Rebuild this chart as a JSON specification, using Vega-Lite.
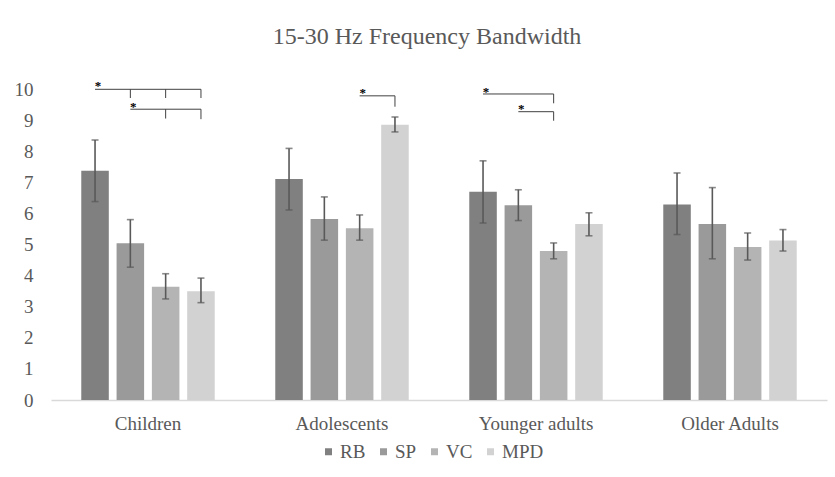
{
  "$schema": "https://vega.github.io/schema/vega-lite/v6.json",
  "autosize": "none",
  "width": 776,
  "height": 311,
  "padding": {"left": 51, "top": 89, "right": 8, "bottom": 77},
  "background": "white",
  "title": {
    "text": "15-30 Hz Frequency Bandwidth",
    "font": "Liberation Serif",
    "fontSize": 24,
    "fontWeight": "normal",
    "color": "#595959",
    "anchor": "middle",
    "dx": -12,
    "offset": 31
  },
  "datasets": {
    "bars": [
      {"group": "Children", "series": "RB", "value": 7.37, "lo": 6.38, "hi": 8.36},
      {"group": "Children", "series": "SP", "value": 5.04, "lo": 4.27, "hi": 5.80},
      {"group": "Children", "series": "VC", "value": 3.64, "lo": 3.25, "hi": 4.06},
      {"group": "Children", "series": "MPD", "value": 3.50, "lo": 3.13, "hi": 3.92},
      {"group": "Adolescents", "series": "RB", "value": 7.11, "lo": 6.11, "hi": 8.09},
      {"group": "Adolescents", "series": "SP", "value": 5.82, "lo": 5.14, "hi": 6.53},
      {"group": "Adolescents", "series": "VC", "value": 5.52, "lo": 5.14, "hi": 5.95},
      {"group": "Adolescents", "series": "MPD", "value": 8.85, "lo": 8.62, "hi": 9.10},
      {"group": "Younger adults", "series": "RB", "value": 6.70, "lo": 5.69, "hi": 7.69},
      {"group": "Younger adults", "series": "SP", "value": 6.26, "lo": 5.77, "hi": 6.76},
      {"group": "Younger adults", "series": "VC", "value": 4.79, "lo": 4.54, "hi": 5.05},
      {"group": "Younger adults", "series": "MPD", "value": 5.66, "lo": 5.28, "hi": 6.02},
      {"group": "Older Adults", "series": "RB", "value": 6.29, "lo": 5.32, "hi": 7.30},
      {"group": "Older Adults", "series": "SP", "value": 5.66, "lo": 4.54, "hi": 6.83},
      {"group": "Older Adults", "series": "VC", "value": 4.92, "lo": 4.50, "hi": 5.37},
      {"group": "Older Adults", "series": "MPD", "value": 5.13, "lo": 4.79, "hi": 5.48}
    ],
    "brackets": [
      {"seg": "c1", "group": "Children", "series": "RB", "y": 9.99},
      {"seg": "c1", "group": "Children", "series": "MPD", "y": 9.99},
      {"seg": "c1a", "group": "Children", "series": "SP", "y": 9.99},
      {"seg": "c1a", "group": "Children", "series": "SP", "y": 9.71},
      {"seg": "c1b", "group": "Children", "series": "VC", "y": 9.99},
      {"seg": "c1b", "group": "Children", "series": "VC", "y": 9.71},
      {"seg": "c1c", "group": "Children", "series": "MPD", "y": 9.99},
      {"seg": "c1c", "group": "Children", "series": "MPD", "y": 9.71},
      {"seg": "c2", "group": "Children", "series": "SP", "y": 9.35},
      {"seg": "c2", "group": "Children", "series": "MPD", "y": 9.35},
      {"seg": "c2a", "group": "Children", "series": "VC", "y": 9.35},
      {"seg": "c2a", "group": "Children", "series": "VC", "y": 9.05},
      {"seg": "c2b", "group": "Children", "series": "MPD", "y": 9.35},
      {"seg": "c2b", "group": "Children", "series": "MPD", "y": 9.03},
      {"seg": "a1", "group": "Adolescents", "series": "VC", "y": 9.78},
      {"seg": "a1", "group": "Adolescents", "series": "MPD", "y": 9.78},
      {"seg": "a1a", "group": "Adolescents", "series": "MPD", "y": 9.78},
      {"seg": "a1a", "group": "Adolescents", "series": "MPD", "y": 9.43},
      {"seg": "y1", "group": "Younger adults", "series": "RB", "y": 9.84},
      {"seg": "y1", "group": "Younger adults", "series": "VC", "y": 9.84},
      {"seg": "y1a", "group": "Younger adults", "series": "VC", "y": 9.84},
      {"seg": "y1a", "group": "Younger adults", "series": "VC", "y": 9.54},
      {"seg": "y2", "group": "Younger adults", "series": "SP", "y": 9.27},
      {"seg": "y2", "group": "Younger adults", "series": "VC", "y": 9.27},
      {"seg": "y2a", "group": "Younger adults", "series": "VC", "y": 9.27},
      {"seg": "y2a", "group": "Younger adults", "series": "VC", "y": 8.98}
    ],
    "stars": [
      {"group": "Children", "series": "RB", "y": 10.23},
      {"group": "Children", "series": "SP", "y": 9.54},
      {"group": "Adolescents", "series": "VC", "y": 9.99},
      {"group": "Younger adults", "series": "RB", "y": 10.02},
      {"group": "Younger adults", "series": "SP", "y": 9.49}
    ]
  },
  "encoding": {
    "x": {
      "field": "group",
      "type": "nominal",
      "sort": ["Children", "Adolescents", "Younger adults", "Older Adults"],
      "scale": {"paddingInner": 0.272, "paddingOuter": 0.136},
      "axis": {
        "title": null,
        "labelAngle": 0,
        "labelFont": "Liberation Serif",
        "labelFontSize": 19,
        "labelColor": "#595959",
        "labelPadding": 14,
        "ticks": false,
        "domainColor": "#d9d9d9",
        "domainWidth": 1.5
      }
    },
    "xOffset": {
      "field": "series",
      "type": "nominal",
      "sort": ["RB", "SP", "VC", "MPD"],
      "scale": {"paddingInner": 0.22, "paddingOuter": 0.11}
    }
  },
  "layer": [
    {
      "data": {"name": "bars"},
      "mark": {"type": "bar"},
      "encoding": {
        "y": {
          "field": "value",
          "type": "quantitative",
          "scale": {"domain": [0, 10], "nice": false},
          "axis": {"title": null, "values": [0, 1, 2, 3, 4, 5, 6, 7, 8, 9, 10], "labelOverlap": false}
        },
        "color": {
          "field": "series",
          "type": "nominal",
          "sort": ["RB", "SP", "VC", "MPD"],
          "scale": {
            "domain": ["RB", "SP", "VC", "MPD"],
            "range": ["#808080", "#9a9a9a", "#b4b4b4", "#d2d2d2"]
          },
          "legend": {
            "title": null,
            "orient": "none",
            "legendX": 268,
            "legendY": 353,
            "direction": "horizontal",
            "symbolType": "square",
            "symbolSize": 49,
            "symbolStrokeWidth": 0,
            "labelFont": "Liberation Serif",
            "labelFontSize": 19,
            "labelColor": "#595959",
            "labelOffset": 2,
            "columnPadding": 8
          }
        }
      }
    },
    {
      "data": {"name": "bars"},
      "mark": {"type": "rule", "color": "#595959", "strokeWidth": 1.6},
      "encoding": {
        "y": {"field": "lo", "type": "quantitative", "axis": {"title": null, "values": [0, 1, 2, 3, 4, 5, 6, 7, 8, 9, 10], "labelOverlap": false}},
        "y2": {"field": "hi"}
      }
    },
    {
      "data": {"name": "bars"},
      "mark": {"type": "tick", "color": "#595959", "thickness": 1.6, "size": 7},
      "encoding": {"y": {"field": "lo", "type": "quantitative", "axis": {"title": null, "values": [0, 1, 2, 3, 4, 5, 6, 7, 8, 9, 10], "labelOverlap": false}}}
    },
    {
      "data": {"name": "bars"},
      "mark": {"type": "tick", "color": "#595959", "thickness": 1.6, "size": 7},
      "encoding": {"y": {"field": "hi", "type": "quantitative", "axis": {"title": null, "values": [0, 1, 2, 3, 4, 5, 6, 7, 8, 9, 10], "labelOverlap": false}}}
    },
    {
      "data": {"name": "brackets"},
      "mark": {"type": "line", "color": "#404040", "strokeWidth": 1, "clip": false},
      "encoding": {
        "y": {"field": "y", "type": "quantitative", "axis": {"title": null, "values": [0, 1, 2, 3, 4, 5, 6, 7, 8, 9, 10], "labelOverlap": false}},
        "detail": {"field": "seg", "type": "nominal"}
      }
    },
    {
      "data": {"name": "stars"},
      "mark": {"type": "text", "text": "*", "font": "Liberation Serif", "fontSize": 13, "fontWeight": "bold", "color": "#000000", "baseline": "alphabetic", "dy": 8, "dx": 3, "clip": false},
      "encoding": {"y": {"field": "y", "type": "quantitative", "axis": {"title": null, "values": [0, 1, 2, 3, 4, 5, 6, 7, 8, 9, 10], "labelOverlap": false}}}
    },
    {
      "mark": {"type": "rule", "color": "#d9d9d9", "strokeWidth": 1.5, "clip": false},
      "encoding": {"y": {"datum": 12.67, "axis": {"title": null, "values": [0, 1, 2, 3, 4, 5, 6, 7, 8, 9, 10], "labelOverlap": false}}, "x": null, "xOffset": null}
    }
  ],
  "config": {
    "view": {"stroke": null},
    "axisY": {
      "grid": false,
      "domain": false,
      "ticks": false,
      "labelFont": "Liberation Serif",
      "labelFontSize": 19,
      "labelColor": "#595959",
      "labelPadding": 18,
      "labelOverlap": false
    }
  }
}
